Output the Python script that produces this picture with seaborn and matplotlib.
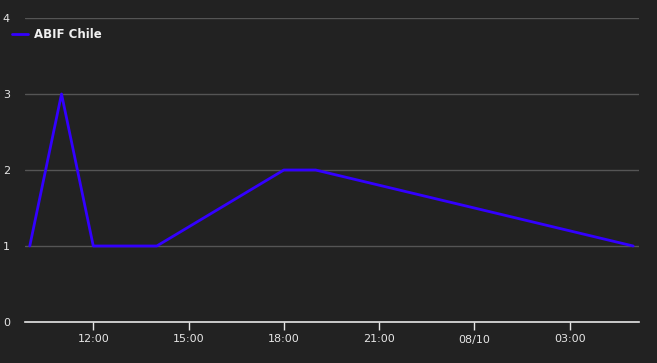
import matplotlib
matplotlib.use("Agg")
import matplotlib.pyplot as plt
import matplotlib.dates as mdates
import pandas as pd
import seaborn as sns

times = ["2023-08-09 10:00", "2023-08-09 11:00", "2023-08-09 12:00", "2023-08-09 14:00",
         "2023-08-09 18:00", "2023-08-09 19:00", "2023-08-10 05:00"]
values = [1, 3, 1, 1, 2, 2, 1]
series_name = "ABIF Chile"
tick_times = ["2023-08-09 12:00", "2023-08-09 15:00", "2023-08-09 18:00",
              "2023-08-09 21:00", "2023-08-10 00:00", "2023-08-10 03:00"]
tick_labels = ["12:00", "15:00", "18:00", "21:00", "08/10", "03:00"]
y_ticks = [0, 1, 2, 3, 4]

df = pd.DataFrame({"time": pd.to_datetime(times), "value": values, "series": series_name})

sns.set_theme(style="dark")
plt.rcParams['font.family'] = ['DejaVu Sans']
bg = "#222222"
fig = plt.figure(figsize=(6.57, 3.63), dpi=100, facecolor=bg)
ax = fig.add_axes([25/657, 1 - 322/363, (639-25)/657, (322-18)/363])
ax.set_facecolor(bg)

sns.lineplot(data=df, x="time", y="value", hue="series", palette=["#3300ff"],
             linewidth=2, ax=ax, legend=True)

ax.set_xlim(pd.Timestamp("2023-08-09 09:51"), pd.Timestamp("2023-08-10 05:11"))
ax.set_ylim(0, 4)
ax.set_yticks(y_ticks)
ax.set_yticklabels([str(v) for v in y_ticks])
ax.set_xticks(mdates.date2num(pd.to_datetime(tick_times)))
ax.set_xticklabels(tick_labels)
ax.grid(axis="y", color="#555555", linewidth=1)
ax.grid(axis="x", visible=False)
for s in ["top", "right", "left"]:
    ax.spines[s].set_visible(False)
ax.spines["bottom"].set_color("#e6e6e6")
ax.spines["bottom"].set_linewidth(1.2)
ax.tick_params(axis="x", colors="#e6e6e6", length=6, width=1, pad=3, labelsize=8, direction="out", bottom=True)
ax.tick_params(axis="y", colors="#e6e6e6", length=0, pad=16, labelsize=8)
for lab in ax.get_yticklabels():
    lab.set_horizontalalignment("left")
ax.set_xlabel("")
ax.set_ylabel("")

leg = ax.legend(loc="upper left", bbox_to_anchor=(-21/614, 0.995), frameon=False,
                handlelength=1.35, handletextpad=0.45, borderaxespad=0.3,
                prop={"weight": "bold", "size": 8.5})
for t in leg.get_texts():
    t.set_color("#f0f0f0")

fig.savefig("out.png", dpi=100, facecolor=bg)
